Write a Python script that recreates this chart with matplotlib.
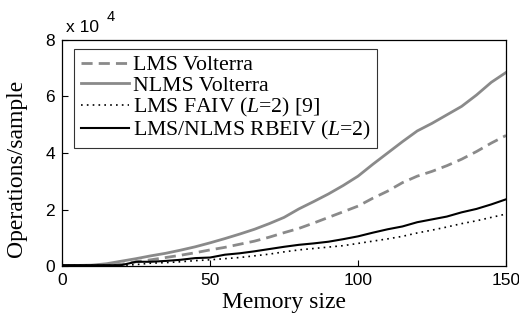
import matplotlib
matplotlib.use("Agg")
import matplotlib.pyplot as plt

# memory size (x axis) and operations/sample in units of 1e4
memory = [0, 5, 10, 15, 20, 25, 30, 35, 40, 45, 50, 55, 60, 65, 70, 75,
          80, 85, 90, 95, 100, 105, 110, 115, 120, 125, 130, 135, 140, 145, 150]

lms_volterra = [0.02, 0.02, 0.02, 0.03, 0.06, 0.15, 0.22, 0.30, 0.38, 0.47, 0.57,
                0.66, 0.77, 0.88, 1.02, 1.18, 1.33, 1.52, 1.72, 1.92, 2.12, 2.40,
                2.65, 2.95, 3.18, 3.35, 3.55, 3.78, 4.05, 4.35, 4.62]
nlms_volterra = [0.02, 0.02, 0.03, 0.08, 0.17, 0.26, 0.36, 0.45, 0.56, 0.68, 0.82,
                 0.97, 1.13, 1.30, 1.50, 1.72, 2.02, 2.28, 2.55, 2.85, 3.18, 3.60,
                 4.00, 4.40, 4.78, 5.05, 5.35, 5.65, 6.05, 6.50, 6.85]
lms_faiv = [0.02, 0.02, 0.02, 0.02, 0.02, 0.05, 0.10, 0.12, 0.15, 0.19, 0.22,
            0.26, 0.30, 0.36, 0.42, 0.50, 0.57, 0.62, 0.67, 0.72, 0.80, 0.88,
            0.96, 1.05, 1.17, 1.27, 1.38, 1.50, 1.60, 1.72, 1.84]
rbeiv = [0.03, 0.03, 0.03, 0.03, 0.03, 0.15, 0.15, 0.18, 0.22, 0.28, 0.30,
         0.40, 0.45, 0.52, 0.60, 0.68, 0.75, 0.80, 0.86, 0.95, 1.05, 1.18,
         1.30, 1.40, 1.55, 1.65, 1.75, 1.90, 2.02, 2.18, 2.36]

labels = ["LMS Volterra", "NLMS Volterra", r"LMS FAIV ($\it{L}$=2) [9]",
          r"LMS/NLMS RBEIV ($\it{L}$=2)"]

serif = "Liberation Serif"
sans = "Liberation Sans"
plt.rcParams["mathtext.fontset"] = "custom"
plt.rcParams["mathtext.it"] = "Liberation Serif:italic"
plt.rcParams["mathtext.rm"] = "Liberation Serif"

fig = plt.figure(figsize=(5.19, 3.25), dpi=100)
ax = fig.add_axes([0.1195, 0.1815, 0.8555, 0.6955])

gray = "#8a8a8a"
ax.plot(memory, lms_volterra, color=gray, lw=2.0, dashes=(4.0, 2.2), label=labels[0])
ax.plot(memory, nlms_volterra, color=gray, lw=2.0, label=labels[1])
ax.plot(memory, lms_faiv, color="black", lw=1.2, dashes=(1, 2.5), label=labels[2])
ax.plot(memory, rbeiv, color="black", lw=1.5, label=labels[3])

ax.set_xlim(0, 150)
ax.set_ylim(0, 8)
ax.set_xticks([0, 50, 100, 150])
ax.set_yticks([0, 2, 4, 6, 8])
ax.tick_params(direction="in", length=4, width=0.8, labelsize=12.5, pad=5)
for lab in ax.get_xticklabels() + ax.get_yticklabels():
    lab.set_family(sans)
for s in ax.spines.values():
    s.set_linewidth(0.9)

ax.set_xlabel("Memory size", fontfamily=serif, fontsize=17, labelpad=3)
ax.set_ylabel("Operations/sample", fontfamily=serif, fontsize=17)
ax.yaxis.set_label_coords(-0.079, 0.434)

fig.text(0.127, 0.9, "x 10", fontfamily=sans, fontsize=12.5, va="baseline")
fig.text(0.206, 0.935, "4", fontfamily=sans, fontsize=10.5, va="baseline")

leg = ax.legend(loc="upper left", bbox_to_anchor=(0.027, 0.962),
                prop={"family": serif, "size": 15.7}, frameon=True, fancybox=False,
                handlelength=2.2, handletextpad=0.2, labelspacing=0.0,
                borderpad=0.3, borderaxespad=0)
leg.get_frame().set_edgecolor("black")
leg.get_frame().set_linewidth(0.8)

fig.savefig("out.png", dpi=100)
